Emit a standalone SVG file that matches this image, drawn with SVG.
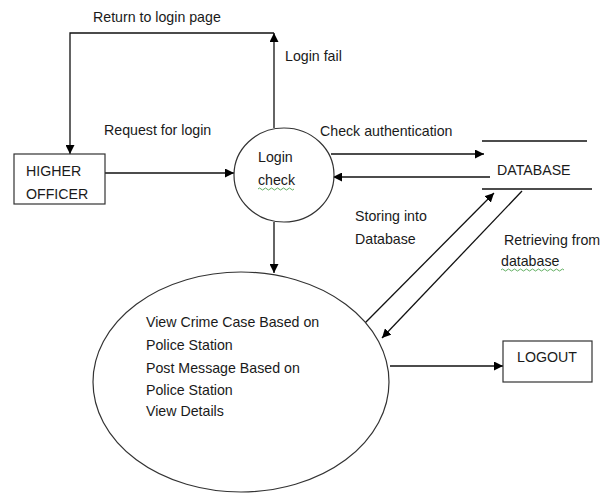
<svg xmlns="http://www.w3.org/2000/svg" width="608" height="493" viewBox="0 0 608 493">
<defs>
<marker id="ah" viewBox="0 0 10 10" refX="10" refY="5" markerWidth="9" markerHeight="9" markerUnits="userSpaceOnUse" orient="auto">
<path d="M0,0 L10,5 L0,10 z" fill="#000"/>
</marker>
<style>
text{font-family:"Liberation Sans",Arial,sans-serif;font-size:14.2px;fill:#1a1a1a}
.shape{fill:#fff;stroke:#333;stroke-width:1.2}
.ln{fill:none;stroke:#111;stroke-width:1.3}
.arr{fill:none;stroke:#111;stroke-width:1.3;marker-end:url(#ah)}
.wavy{fill:none;stroke:#3a9a3a;stroke-width:0.8}
</style>
</defs>
<rect width="608" height="493" fill="#fff"/>
<g id="connectors">
<polyline class="arr" points="274,128 274,33"/>
<polyline class="arr" points="274,33 70,33 70,154"/>
<line class="arr" x1="105" y1="173" x2="234" y2="173"/>
<line class="arr" x1="331" y1="154" x2="484" y2="154"/>
<line class="arr" x1="490" y1="177" x2="333" y2="177"/>
<line class="arr" x1="365" y1="323" x2="494" y2="193"/>
<line class="arr" x1="522" y1="191" x2="382" y2="338"/>
<line class="arr" x1="274" y1="222" x2="274" y2="273"/>
<line class="arr" x1="390" y1="366" x2="503" y2="366"/>
</g>
<g id="higher-officer">
<rect class="shape" x="14" y="154" width="91" height="50"/>
<text x="26" y="176">HIGHER</text>
<text x="26" y="199">OFFICER</text>
</g>
<g id="login-check">
<ellipse class="shape" cx="284" cy="175" rx="50" ry="47"/>
<text x="258" y="162">Login</text>
<text x="258" y="185">check</text>
<path class="wavy" d="M258,189 q1.5,-2 3,0 t3,0 t3,0 t3,0 t3,0 t3,0 t3,0 t3,0 t3,0 t3,0 t3,0 t3,0"/>
</g>
<g id="database">
<line class="ln" x1="482" y1="141" x2="587" y2="141"/>
<line class="ln" x1="482" y1="189" x2="592" y2="189"/>
<text x="497" y="175">DATABASE</text>
</g>
<g id="main-process">
<ellipse class="shape" cx="241" cy="382" rx="148" ry="110"/>
<text x="146" y="327">View Crime Case Based on</text>
<text x="146" y="350">Police Station</text>
<text x="146" y="373">Post Message Based on</text>
<text x="146" y="395">Police Station</text>
<text x="146" y="416">View Details</text>
</g>
<g id="logout">
<rect class="shape" x="503" y="341" width="89" height="41"/>
<text x="517" y="362">LOGOUT</text>
</g>
<g id="labels">
<text x="93" y="22">Return to login page</text>
<text x="285" y="61">Login fail</text>
<text x="104" y="135">Request for login</text>
<text x="320" y="136">Check authentication</text>
<text x="355" y="221">Storing into</text>
<text x="355" y="244">Database</text>
<text x="504" y="245">Retrieving from</text>
<text x="501" y="266">database</text>
<path class="wavy" d="M501,270 q1.5,-2 3,0 t3,0 t3,0 t3,0 t3,0 t3,0 t3,0 t3,0 t3,0 t3,0 t3,0 t3,0 t3,0 t3,0 t3,0 t3,0 t3,0 t3,0 t3,0 t3,0 t3,0"/>
</g>
</svg>
